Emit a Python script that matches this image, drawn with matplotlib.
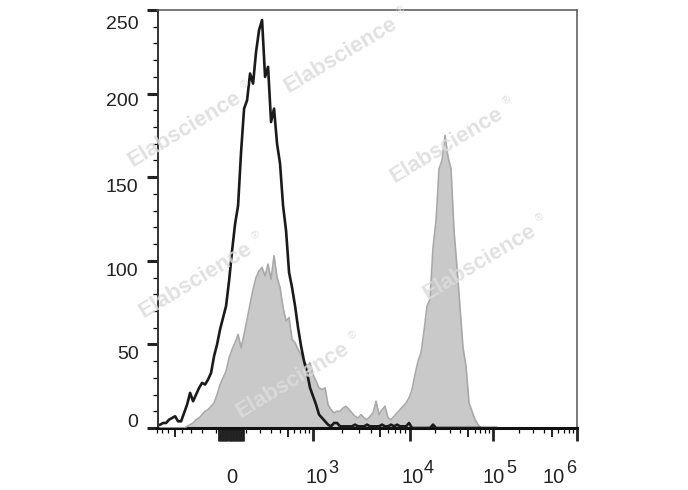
import numpy as np
import matplotlib.pyplot as plt
from matplotlib.markers import TICKDOWN

plt.rcParams['font.family'] = ['Liberation Sans', 'DejaVu Sans']

# biexponential-like display scale: data value -> screen channel
W = 250.0
KNOT_X = np.array([-1e7, -1e3, 0, 1e3, 1e4, 1e5, 1e6, 1e7])
KNOT_P = np.array([-186.6, 149.0, 231.0, 313.3, 409.5, 493.3, 577.0, 661.0])
KNOT_U = np.arcsinh(KNOT_X / W)

def fwd(x):
    return np.interp(np.arcsinh(np.asarray(x, float) / W), KNOT_U, KNOT_P)

def inv(p):
    return W * np.sinh(np.interp(np.asarray(p, float), KNOT_P, KNOT_U))

# histogram channels (screen channel units, 3 per bin)
chan = 160 + 3 * np.arange(113)

# isotype control (black outline)
control = [2, 3, 3, 5, 6, 7, 4, 4, 9, 14,
           21, 16, 20, 24, 27, 26, 29, 33, 43, 50,
           59, 66, 73, 88, 106, 122, 133, 165, 191, 196,
           212, 206, 225, 238, 244, 210, 216, 183, 191, 170,
           158, 133, 118, 93, 84, 73, 60, 49, 40, 33,
           24, 19, 14, 8, 6, 4, 2, 1, 3, 3,
           1, 1, 1, 1, 1, 2, 1, 1, 1, 2,
           1, 1, 1, 1, 2, 1, 1, 2, 1, 2,
           1, 1, 1, 3, 0, 0, 0, 0, 0, 0,
           0, 2, 0, 0, 0, 0, 0, 0, 0, 0,
           0, 0, 0, 0, 0, 0, 0, 0, 0, 0,
           0, 0, 0]

# stained sample (grey filled)
stained = [0, 0, 0, 0, 0, 0, 0, 0, 0, 1,
           2, 3, 5, 6, 8, 10, 11, 13, 15, 20,
           26, 30, 34, 42, 47, 51, 56, 48, 56, 65,
           74, 83, 90, 94, 96, 91, 98, 89, 103, 90,
           84, 72, 64, 66, 53, 51, 47, 44, 40, 37,
           39, 32, 28, 24, 23, 24, 14, 11, 9, 10,
           10, 12, 13, 11, 9, 7, 6, 8, 6, 5,
           7, 9, 16, 8, 11, 13, 6, 5, 7, 9,
           11, 13, 15, 18, 23, 32, 40, 45, 58, 73,
           77, 108, 124, 155, 160, 175, 162, 155, 118, 96,
           72, 48, 37, 15, 10, 5, 2, 0, 0, 0,
           0, 0, 0]

y_major = [0, 50, 100, 150, 200, 250]
y_label_shift = [1.3, -15, -14.7, -15, -12.4, -19.3]   # px, FlowJo-style offsets

x_major = [0, 1e3, 1e4, 1e5, 1e6]
x_exp = ['', '3', '4', '5', '6']
x_label_shift = [0.5, 3, 3, 0.7, -23]
x_exp_shift = [0, 19.7, 19.5, 17.7, -6]
zero_cluster = [v for v in range(-80, 90, 10) if v != 0]
mid_ticks = [-500, 500, 5e3, 5e4, 5e5]
minor = ([-800, -700, -600, -400, -300, -200, -100, 100, 200, 300, 400, 600, 700, 800, 900]
         + [m * 10 ** d for d in (3, 4, 5) for m in (2, 3, 4, 6, 7, 8, 9)])

fig = plt.figure(figsize=(6.88, 4.90), dpi=100)
ax = fig.add_axes([157.5 / 688, 62 / 490, 419.5 / 688, 418 / 490])
ax.set_xscale('function', functions=(fwd, inv))

x = inv(chan)
ax.fill_between(x, stained, 0, color='#c9c9c9', lw=0, zorder=2)
ax.plot(x, stained, color='#a9a9a9', lw=1.2, zorder=3)
ax.plot(x, control, color='#1a1a1a', lw=1.9, zorder=4)

ax.set_xlim(inv(157.5), inv(577))
ax.set_ylim(0, 250)

ax.set_xticks(x_major + zero_cluster)
ax.set_xticks(minor, minor=True)
ax.set_yticks(y_major)
ax.set_yticks(range(0, 251, 10), minor=True)
ax.tick_params(labelbottom=False, labelleft=False, colors='#222222')
ax.tick_params(axis='x', which='major', length=9.4, width=2.0)
ax.tick_params(axis='x', which='minor', length=3.4, width=0.9)
ax.tick_params(axis='y', which='major', length=7.9, width=2.2)
ax.tick_params(axis='y', which='minor', length=3.6, width=0.9)
ax.plot(mid_ticks, np.zeros(len(mid_ticks)), transform=ax.get_xaxis_transform(),
        ls='none', marker=TICKDOWN, ms=6.2, mew=1.4, color='#222222', clip_on=False)

ax.spines['left'].set_color('#333333')
ax.spines['left'].set_linewidth(1.4)
ax.spines['bottom'].set_color('#111111')
ax.spines['bottom'].set_linewidth(2.2)
for s in ('top', 'right'):
    ax.spines[s].set_color('#555555')
    ax.spines[s].set_linewidth(1.1)

for v, dy in zip(y_major, y_label_shift):
    ax.annotate(str(v), xy=(0, v), xycoords=('axes fraction', 'data'),
                xytext=(-19, dy), textcoords='offset pixels',
                ha='right', va='baseline', fontsize=14, color='#222222')

for v, e, dx, ex in zip(x_major, x_exp, x_label_shift, x_exp_shift):
    base = '0' if e == '' else '10'
    ax.annotate(base, xy=(v, 0), xycoords=('data', 'axes fraction'),
                xytext=(dx, -55), textcoords='offset pixels',
                ha='center', va='baseline', fontsize=14.5, color='#222222')
    if e:
        ax.annotate(e, xy=(v, 0), xycoords=('data', 'axes fraction'),
                    xytext=(ex, -45), textcoords='offset pixels',
                    ha='center', va='baseline', fontsize=13, color='#222222')

# Elabscience watermarks (centres in pixels from top-left)
marks = [(341, 55), (185, 129), (447, 145), (196, 280), (480, 262), (293, 380)]
ang = np.deg2rad(31)
for cx, cy in marks:
    fig.text(cx / 688, 1 - cy / 490, 'Elabscience', rotation=31, rotation_mode='anchor',
             ha='center', va='center', fontsize=16, fontweight='bold',
             color='#dcdcdc', alpha=0.85, zorder=10)
    rx = cx + 74.5 * np.cos(ang) - 7 * np.sin(ang)
    ry = cy - (74.5 * np.sin(ang) + 7 * np.cos(ang))
    fig.text(rx / 688, 1 - ry / 490, '\u00ae', rotation=31, rotation_mode='anchor',
             ha='center', va='center', fontsize=8, color='#dcdcdc', alpha=0.85, zorder=10)

fig.savefig('out.png', dpi=100)
